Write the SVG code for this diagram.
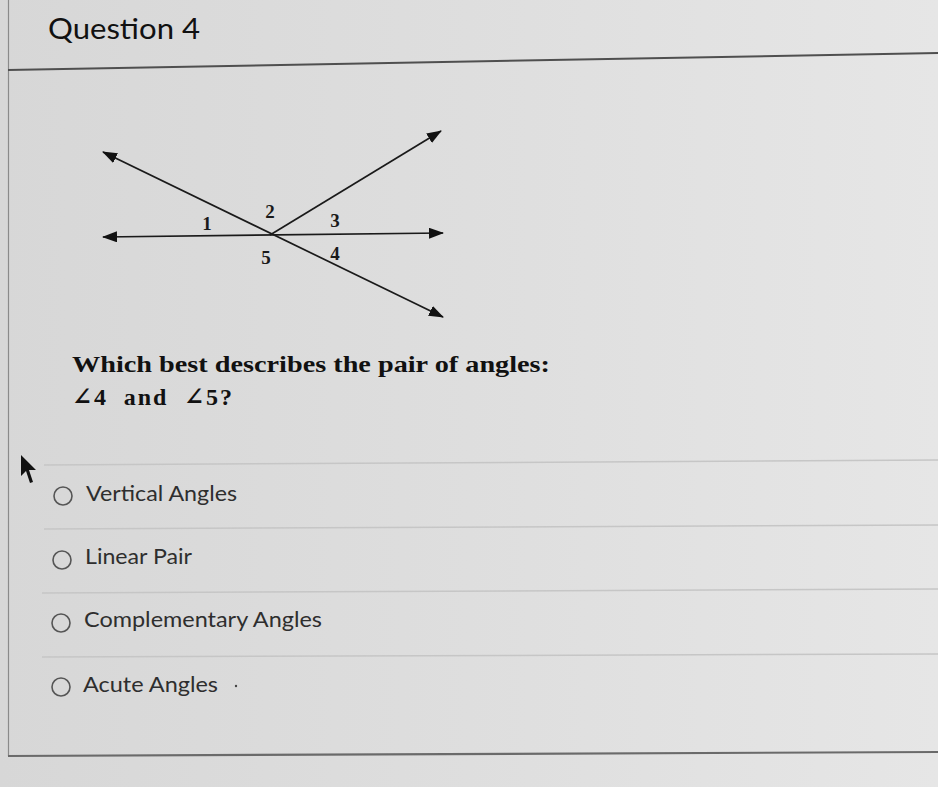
<svg xmlns="http://www.w3.org/2000/svg" width="938" height="787" viewBox="0 0 938 787">
  <defs>
    <linearGradient id="bg" x1="0" y1="0" x2="1" y2="0">
      <stop offset="0" stop-color="#d7d7d7"/>
      <stop offset="0.5" stop-color="#dedede"/>
      <stop offset="1" stop-color="#e6e6e6"/>
    </linearGradient>
    <marker id="arr" viewBox="0 0 15 11" refX="14" refY="5.5" markerWidth="15" markerHeight="11" markerUnits="userSpaceOnUse" orient="auto-start-reverse">
      <path d="M0,0 L15,5.5 L0,11 z" fill="#111"/>
    </marker>
    <style>
      .ray { stroke: #1a1a1a; stroke-width: 1.7; fill: none; marker-start: url(#arr); marker-end: url(#arr); }
      .lbl { font-family: "Liberation Serif", "Times New Roman", serif; font-weight: bold; font-size: 19px; fill: #1a1a1a; text-anchor: middle; }
      .q { font-family: "Liberation Serif", "DejaVu Serif", serif; font-weight: bold; font-size: 24px; fill: #111; }
      .opt { font-family: Lato, "Open Sans", sans-serif; font-size: 21px; fill: #2e2e2e; }
      .radio { fill: none; stroke: #555; stroke-width: 1.6; }
      .div { stroke: #c6c6c6; stroke-width: 1.5; }
    </style>
  </defs>

  <rect x="0" y="0" width="938" height="787" fill="url(#bg)"/>

  <g id="frame">
    <line x1="8.5" y1="0" x2="8.5" y2="756" stroke="#8a8a8a" stroke-width="1.2"/>
    <line x1="8" y1="70" x2="938" y2="53" stroke="#4f4f4f" stroke-width="2"/>
    <line x1="8" y1="756" x2="938" y2="752" stroke="#6a6a6a" stroke-width="2.2"/>
  </g>

  <g id="header">
    <text x="48" y="39" font-family="Lato, 'Open Sans', sans-serif" font-size="28" fill="#111" textLength="152" lengthAdjust="spacingAndGlyphs">Question 4</text>
  </g>

  <g id="connectors">
    <line class="ray" x1="103" y1="237" x2="443" y2="233"/>
    <line class="ray" x1="103" y1="152" x2="443" y2="317"/>
    <line class="ray" x1="270" y1="235" x2="441" y2="131" style="marker-start:none"/>
  </g>

  <g id="angle-labels">
    <g id="a1"><text class="lbl" x="207" y="230">1</text></g>
    <g id="a2"><text class="lbl" x="270" y="218">2</text></g>
    <g id="a3"><text class="lbl" x="335" y="227">3</text></g>
    <g id="a4"><text class="lbl" x="335" y="260">4</text></g>
    <g id="a5"><text class="lbl" x="266" y="264">5</text></g>
  </g>

  <g id="question">
    <text class="q" x="72" y="372" textLength="478" lengthAdjust="spacingAndGlyphs">Which best describes the pair of angles:</text>
    <text class="q" x="72" y="405" xml:space="preserve" textLength="160" lengthAdjust="spacing">∠4  and  ∠5?</text>
  </g>

  <g id="dividers">
    <line class="div" x1="44" y1="465" x2="938" y2="460"/>
    <line class="div" x1="44" y1="529" x2="938" y2="525"/>
    <line class="div" x1="42" y1="593" x2="938" y2="589"/>
    <line class="div" x1="42" y1="657" x2="938" y2="654"/>
  </g>

  <g id="opt1">
    <circle class="radio" cx="63" cy="496" r="9"/>
    <text class="opt" x="86" y="501" textLength="151" lengthAdjust="spacingAndGlyphs">Vertical Angles</text>
  </g>
  <g id="opt2">
    <circle class="radio" cx="62" cy="560" r="9"/>
    <text class="opt" x="85" y="564" textLength="107" lengthAdjust="spacingAndGlyphs">Linear Pair</text>
  </g>
  <g id="opt3">
    <circle class="radio" cx="61" cy="623" r="9"/>
    <text class="opt" x="84" y="627" textLength="238" lengthAdjust="spacingAndGlyphs">Complementary Angles</text>
  </g>
  <g id="opt4">
    <circle class="radio" cx="61" cy="687" r="9"/>
    <text class="opt" x="83" y="692" textLength="135" lengthAdjust="spacingAndGlyphs">Acute Angles</text>
    <circle cx="236" cy="686" r="1.2" fill="#444"/>
  </g>

  <g id="cursor">
    <path d="M21,455 L21,476 L26,471 L30,483 L33,482 L29,470 L36,470 z" fill="#111"/>
  </g>
</svg>
